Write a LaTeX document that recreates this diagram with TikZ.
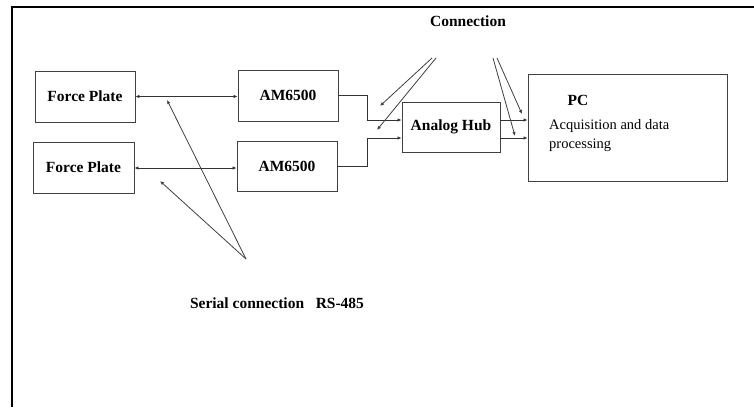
\documentclass[tikz,border=0pt]{standalone}
\usepackage{fontspec}
\setmainfont{Liberation Serif}
\usetikzlibrary{arrows.meta,calc}
\begin{document}
\begin{tikzpicture}[x=1pt,y=-1pt,
  box/.style={draw=black!75,line width=0.9pt,rectangle,inner sep=0pt,font=\fontsize{15.5}{18}\selectfont\bfseries},
  lbl/.style={inner sep=0pt,font=\fontsize{15.5}{18}\selectfont\bfseries},
  body/.style={inner sep=0pt,anchor=west,font=\fontsize{14.5}{17}\selectfont},
  conn/.style={draw=black!80,line width=0.9pt},
  arr/.style={conn,-{Latex[length=4pt,width=3.5pt]}},
  darr/.style={conn,{Latex[length=4pt,width=3.5pt]}-{Latex[length=4pt,width=3.5pt]}},
  ptr/.style={draw=black!75,line width=0.8pt,-{Latex[length=4pt,width=3.5pt]}}]
\useasboundingbox (0,0) rectangle (754,407);
\fill[white] (0,0) rectangle (754,407);
% frame
\draw[line width=2.6pt] (10.7,7) -- (754,7);
\draw[line width=2.6pt] (12,7) -- (12,407);
% boxes
\node[box,minimum width=100pt,minimum height=51pt] (fp1) at (85,96.5) {Force Plate};
\node[box,minimum width=101pt,minimum height=51pt] (fp2) at (83.5,167.5) {Force Plate};
\node[box,minimum width=100pt,minimum height=51pt] (am1) at (288,95.5) {AM6500};
\node[box,minimum width=100pt,minimum height=50pt] (am2) at (287,166) {AM6500};
\node[box,minimum width=98pt,minimum height=50pt] (hub) at (451,127) {Analog Hub};
\node[box,minimum width=199pt,minimum height=107pt] (pc) at (627.5,127.5) {};
\node[lbl] (pct) at (578,100) {PC};
\node[body] (acq) at (549,126) {Acquisition and data};
\node[body] (proc) at (549,145) {processing};
% connections
\draw[darr] (fp1.east) -- (fp1.east -| am1.west);
\draw[darr] ($(fp2.east)+(0,0.5)$) -- ($(fp2.east -| am2.west)+(0,0.5)$);
\draw[arr] (am1.east) -- ++(29,0) |- ($(hub.west)+(0,-7)$);
\draw[arr] (am2.east) -- ++(30,0) |- ($(hub.west)+(0,11)$);
\draw[arr] ($(hub.east)+(0,-7)$) -- ($(hub.east -| pc.west)+(0,-7)$);
\draw[arr] ($(hub.east)+(0,11)$) -- ($(hub.east -| pc.west)+(0,11)$);
% labels and pointers
\node[lbl] (conntxt) at (468,21) {Connection};
\coordinate (c1) at (432,58);
\coordinate (c2) at (436,58);
\coordinate (c3) at (493,58);
\coordinate (c4) at (497,58);
\coordinate (e1) at (380,106);
\coordinate (e2) at (377,130);
\coordinate (e3) at (515,136);
\coordinate (e4) at (522,114);
\draw[ptr] (c1) -- (e1);
\draw[ptr] (c2) -- (e2);
\draw[ptr] (c3) -- (e3);
\draw[ptr] (c4) -- (e4);
\node[lbl] (serial) at (277,303) {Serial connection\hspace{0.75em}RS-485};
\coordinate (apex) at (246,259);
\coordinate (s1) at (167,100);
\coordinate (s2) at (160,181);
\draw[ptr] (apex) -- (s1);
\draw[ptr] (apex) -- (s2);
\end{tikzpicture}
\end{document}
